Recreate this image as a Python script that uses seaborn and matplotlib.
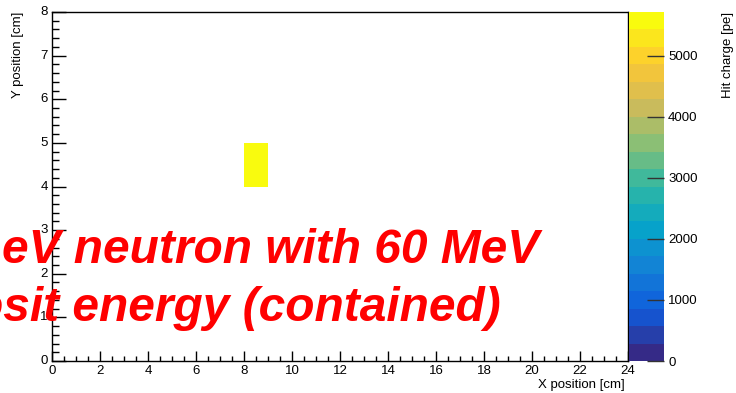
import numpy as np
import pandas as pd
import seaborn as sns
import matplotlib
matplotlib.use("Agg")
import matplotlib.pyplot as plt
from matplotlib.colors import LinearSegmentedColormap, BoundaryNorm
from matplotlib.ticker import MultipleLocator

# ---- data ----
hit_x = [8]          # bin lower edge [cm]
hit_y = [4]          # bin lower edge [cm]
hit_charge = [5720]  # [pe]
n_x_bins = 24
n_y_bins = 8
z_max = 5720
n_levels = 20
x_ticks = [0, 2, 4, 6, 8, 10, 12, 14, 16, 18, 20, 22, 24]
y_ticks = [0, 1, 2, 3, 4, 5, 6, 7, 8]
z_ticks = [0, 1000, 2000, 3000, 4000, 5000]
text_line1 = "eV neutron with 60 MeV"
text_line2 = "osit energy (contained)"

# ---- ROOT kBird palette ----
red = [0.2082, 0.0592, 0.0780, 0.0232, 0.1802, 0.5301, 0.8186, 0.9956, 0.9764]
green = [0.1664, 0.3599, 0.5041, 0.6419, 0.7178, 0.7492, 0.7328, 0.7862, 0.9832]
blue = [0.5293, 0.8684, 0.8385, 0.7914, 0.6425, 0.4662, 0.3499, 0.1968, 0.0539]
stops = np.linspace(0, 1, len(red))
bird = LinearSegmentedColormap.from_list("bird", list(zip(stops, zip(red, green, blue))))
levels = np.linspace(0, z_max, n_levels + 1)
cmap = matplotlib.colors.ListedColormap(bird(np.linspace(0, 1, n_levels)))
norm = BoundaryNorm(levels, n_levels)

grid = pd.DataFrame(np.nan, index=range(n_y_bins), columns=range(n_x_bins))
for xx, yy, cc in zip(hit_x, hit_y, hit_charge):
    grid.loc[yy, xx] = cc

plt.rcParams["font.family"] = ["Liberation Sans", "DejaVu Sans"]
W, H = 736, 393
fig = plt.figure(figsize=(W / 100, H / 100), dpi=100)
ax = fig.add_axes([52 / W, 1 - 361 / H, (628 - 52) / W, (361 - 12) / H])
cax = fig.add_axes([629 / W, 1 - 361 / H, (664 - 629) / W, (361 - 12) / H])

sns.heatmap(grid, ax=ax, cmap=cmap, norm=norm, cbar=True, cbar_ax=cax,
            mask=grid.isna(), linewidths=0)
ax.invert_yaxis()
ax.set_xlim(0, n_x_bins)
ax.set_ylim(0, n_y_bins)
for s in ax.spines.values():
    s.set_visible(True)
    s.set_color("black")
    s.set_linewidth(1.0)

ax.set_xticks(x_ticks)
ax.set_xticklabels([str(t) for t in x_ticks], rotation=0)
ax.set_yticks(y_ticks)
ax.set_yticklabels([str(t) for t in y_ticks], rotation=0)
ax.xaxis.set_minor_locator(MultipleLocator(0.5))
ax.yaxis.set_minor_locator(MultipleLocator(0.2))
ax.tick_params(axis="x", which="major", direction="in", length=7, width=1, labelsize=9.5, pad=3, color="black")
ax.tick_params(axis="x", which="minor", direction="in", length=3.5, width=1, color="black")
ax.tick_params(axis="y", which="major", direction="in", length=10, width=1, labelsize=9.5, pad=3, color="black")
ax.tick_params(axis="y", which="minor", direction="in", length=5, width=1, color="black")
ax.set_xlabel("")
ax.set_ylabel("")

fig.text(625 / W, 1 - 388 / H, "X position [cm]", ha="right", va="baseline", fontsize=9.5)
fig.text(12 / W, 1 - 12 / H, "Y position [cm]", ha="left", va="top", rotation=90, fontsize=9.5)
fig.text(722 / W, 1 - 12 / H, "Hit charge [pe]", ha="left", va="top", rotation=90, fontsize=9.5)

cbar = ax.collections[0].colorbar
cbar.set_ticks(z_ticks)
cbar.set_ticklabels([str(t) for t in z_ticks])
cbar.outline.set_visible(False)
cax.set_ylim(0, z_max)
cax.tick_params(axis="y", direction="in", length=12, width=1, color="#333333", labelsize=9.5, pad=3)
cax.yaxis.set_minor_locator(matplotlib.ticker.NullLocator())

fig.text(539 / W, 1 - 263 / H, text_line1, ha="right", va="baseline", color="red",
         fontsize=34.5, fontweight="bold", fontstyle="italic")
fig.text(501 / W, 1 - 321 / H, text_line2, ha="right", va="baseline", color="red",
         fontsize=34.5, fontweight="bold", fontstyle="italic")

fig.savefig("out.png", dpi=100)
